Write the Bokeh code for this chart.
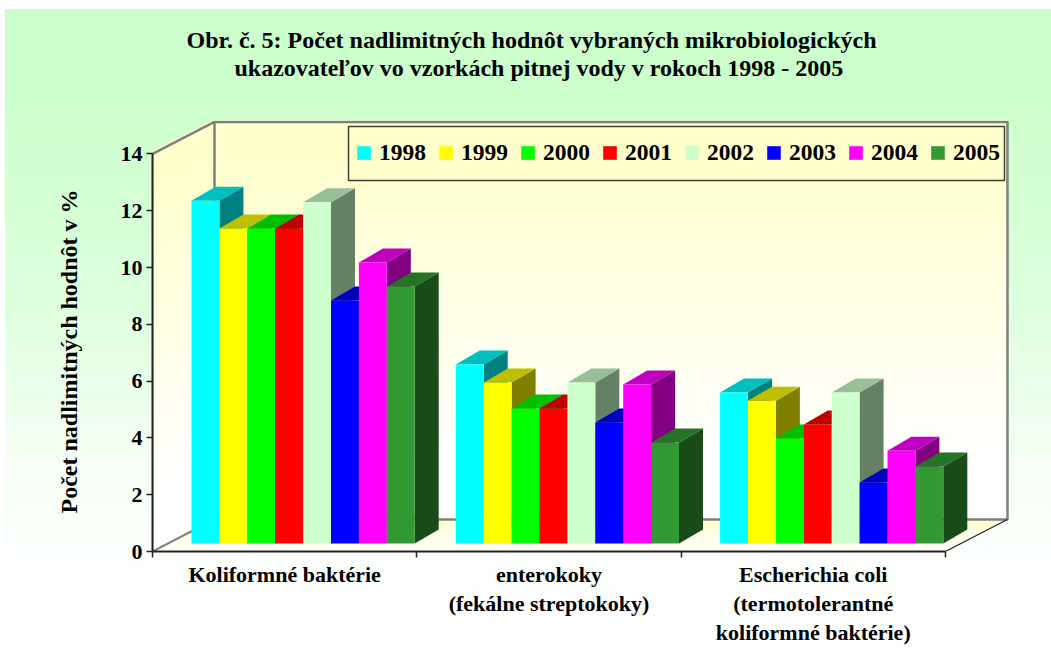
from bokeh.plotting import figure
from bokeh.models import (Range1d, LinearAxis, FixedTicker, Title, Legend, LegendItem,
                          BoxAnnotation)
from bokeh.embed import file_html
from bokeh.resources import INLINE

category_line1 = ["Koliformné baktérie", "enterokoky", "Escherichia coli"]
category_line2 = ["", "(fekálne streptokoky)", "(termotolerantné"]
category_line3 = ["", "", "koliformné baktérie)"]
years = ["1998", "1999", "2000", "2001", "2002", "2003", "2004", "2005"]
v1998 = [12.07, 6.30, 5.32]
v1999 = [11.09, 5.67, 5.03]
v2000 = [11.09, 4.75, 3.70]
v2001 = [11.09, 4.75, 4.19]
v2002 = [12.02, 5.67, 5.32]
v2003 = [8.56, 4.26, 2.15]
v2004 = [9.89, 5.60, 3.27]
v2005 = [9.05, 3.56, 2.71]
series = [v1998, v1999, v2000, v2001, v2002, v2003, v2004, v2005]
colors = [(0, 255, 255), (255, 255, 0), (0, 255, 0), (255, 0, 0),
          (204, 255, 204), (0, 0, 255), (255, 0, 255), (51, 153, 51)]
title_line1 = "Obr. č. 5: Počet nadlimitných hodnôt vybraných mikrobiologických"
title_line2 = "ukazovateľov vo vzorkách pitnej vody v rokoch 1998 - 2005"
y_title = "Počet nadlimitných hodnôt v %"
y_ticks = [0, 2, 4, 6, 8, 10, 12, 14]

SERIF = "Liberation Serif"
FIG_L, FIG_T, FIG_W, FIG_H = 5, 9, 1046, 650
F_L, F_R, F_T, F_B = 152, 1010, 120, 551
PX_X, PX_Y = 264.3, 28.4          # pixels per category, per value unit


def xd(px):
    return (px - F_L) / PX_X


def yd(py):
    return (F_B - py) / PX_Y


p = figure(width=FIG_W, height=FIG_H, output_backend="svg", toolbar_location=None,
           x_range=Range1d(0, (F_R - F_L) / PX_X), y_range=Range1d(0, (F_B - F_T) / PX_Y),
           x_axis_type=None, y_axis_type=None,
           min_border_left=F_L - FIG_L, min_border_right=FIG_L + FIG_W - F_R,
           min_border_top=F_T - FIG_T, min_border_bottom=FIG_T + FIG_H - F_B,
           outline_line_color=None, background_fill_alpha=0, border_fill_alpha=0,
           margin=(FIG_T, 0, 0, FIG_L))
p.styles = {"background": "linear-gradient(#CCFFCC 12%, #DDFFDD 45%, #F6FFF6 70%, #FFFFFF 92%)"}
p.grid.visible = False

WALL_DX, WALL_DY = 62 / PX_X, 32 / PX_Y
BAR_DX, BAR_DY = 24 / PX_X, 14 / PX_Y
BASE_Y = 8 / PX_Y
BAR_W = 27.9 / PX_X
GROUP_GAP = 39 / PX_X


def wall_color(v):
    t = min(1.0, max(0.0, (v - 2.0) / 11.0))
    return "#%02x%02x%02x" % (255, 255, round(255 - 51 * t))


# back wall and left wall as thin gradient strips
steps = [i * 0.08 for i in range(176)]
xs, ys, cs = [], [], []
for v in steps:
    c = wall_color(v)
    xs.append([WALL_DX, xd(1007), xd(1007), WALL_DX])
    ys.append([v + WALL_DY, v + WALL_DY, v + WALL_DY + 0.1, v + WALL_DY + 0.1])
    cs.append(c)
    xs.append([0, WALL_DX, WALL_DX, 0])
    ys.append([v, v + WALL_DY, v + WALL_DY + 0.1, v + 0.1])
    cs.append(c)
p.patches(xs, ys, fill_color=cs, line_color=None)

# floor
fx, fy, fc = [], [], []
N = 34
for i in range(N):
    a, b = i / N, (i + 1.3) / N
    fx.append([a * WALL_DX, 3 + a * WALL_DX, 3 + b * WALL_DX, b * WALL_DX])
    fy.append([a * WALL_DY, a * WALL_DY, b * WALL_DY, b * WALL_DY])
    fc.append("#%02x%02x%02x" % (255, 255, round(255 - 51 * i / N)))
p.patches(fx, fy, fill_color=fc, line_color=None)

# wall outlines
GRAY = "#808080"
p.line([0, WALL_DX, xd(1007), xd(1007), WALL_DX, WALL_DX],
       [14, 14 + WALL_DY, 14 + WALL_DY, WALL_DY, WALL_DY, 14 + WALL_DY], line_color=GRAY, line_width=2.5)
p.line([0, WALL_DX], [0, WALL_DY], line_color=GRAY, line_width=2)
p.line([0, 0], [0, 14], line_color="#a0a0a0", line_width=1.5)
p.line([3, 3 + WALL_DX], [0, WALL_DY], line_color="#222222", line_width=1.2)


def shade(c, f):
    return "#%02x%02x%02x" % tuple(round(k * f) for k in c)


# bars, painted left to right
items = []
for j, (vals, col) in enumerate(zip(series, colors)):
    lefts = [g + GROUP_GAP + j * BAR_W for g in range(3)]
    rights = [x + BAR_W for x in lefts]
    tops = [v + BASE_Y for v in vals]
    bots = [BASE_Y] * 3
    side_x = [[r, r + BAR_DX, r + BAR_DX, r] for r in rights]
    side_y = [[BASE_Y, BASE_Y + BAR_DY, t + BAR_DY, t] for t in tops]
    top_x = [[l, r, r + BAR_DX, l + BAR_DX] for l, r in zip(lefts, rights)]
    top_y = [[t, t, t + BAR_DY, t + BAR_DY] for t in tops]
    p.patches(side_x, side_y, fill_color=shade(col, 0.5), line_color=None)
    p.patches(top_x, top_y, fill_color=shade(col, 0.75), line_color=None)
    r = p.quad(left=lefts, right=rights, top=tops, bottom=bots,
               fill_color=shade(col, 1.0), line_color=None)
    items.append(LegendItem(label=years[j], renderers=[r]))

# axes
ya = LinearAxis(ticker=FixedTicker(ticks=y_ticks), bounds=(0, 14),
                major_label_text_font=SERIF, major_label_text_font_style="bold",
                major_label_text_font_size="22px", major_label_text_color="#000000",
                major_label_standoff=4, major_tick_out=6, major_tick_in=0, minor_tick_out=0,
                minor_tick_in=0, axis_line_color="#222222", axis_line_width=2,
                major_tick_line_color="#222222", major_tick_line_width=1.5)
p.add_layout(ya, "left")
p.add_layout(Title(text=y_title, align="left", offset=38, standoff=71, text_font=SERIF,
                   text_font_style="bold", text_font_size="24px", text_color="#000000"), "left")

CAT_TICKS = [0.5, 1.5, 2.5]
LABEL_FONT = dict(major_label_text_font=SERIF, major_label_text_font_style="bold",
                  major_label_text_font_size="22px", major_label_text_color="#000000")
xa = LinearAxis(ticker=FixedTicker(ticks=CAT_TICKS, minor_ticks=[0, 1, 2, 3]), bounds=(0, 3),
                major_label_overrides=dict(zip(CAT_TICKS, category_line1)),
                major_label_standoff=4, major_tick_out=0, major_tick_in=0,
                minor_tick_out=6, minor_tick_in=0, axis_line_color="#222222", axis_line_width=2,
                minor_tick_line_color="#222222", minor_tick_line_width=1.5, **LABEL_FONT)
p.add_layout(xa, "below")
for lines in (category_line2, category_line3):
    ax = LinearAxis(ticker=FixedTicker(ticks=CAT_TICKS), bounds=(0, 3),
                    major_label_overrides=dict(zip(CAT_TICKS, lines)),
                    major_label_standoff=1, major_tick_out=0, major_tick_in=0,
                    minor_tick_out=0, minor_tick_in=0, axis_line_color=None,
                    major_tick_line_color=None, **LABEL_FONT)
    p.add_layout(ax, "below")

# legend frame and legend
p.add_layout(BoxAnnotation(left=xd(348), right=xd(1004), top=yd(126), bottom=yd(180),
                           fill_color="#FFFFCC", fill_alpha=1, line_color="#404030", line_alpha=1,
                           line_width=1.5))
leg = Legend(items=items, orientation="horizontal", location=(355 - F_L, F_B - 166),
             padding=0, margin=0, spacing=11, label_standoff=7, glyph_width=17, glyph_height=17,
             label_height=17, border_line_color=None, background_fill_alpha=0,
             label_text_font=SERIF, label_text_font_style="bold", label_text_font_size="23.5px",
             label_text_color="#000000", label_text_baseline="middle")
p.add_layout(leg, "center")

# chart title
p.add_layout(Title(text=title_line2, align="left", offset=234 - F_L, standoff=79, text_font=SERIF,
                   text_font_style="bold", text_font_size="24px", text_color="#000000"), "above")
p.add_layout(Title(text=title_line1, align="left", offset=186 - F_L, standoff=-79, text_font=SERIF,
                   text_font_style="bold", text_font_size="24px", text_color="#000000"), "above")

open("out.html", "w").write(file_html(p, INLINE))
